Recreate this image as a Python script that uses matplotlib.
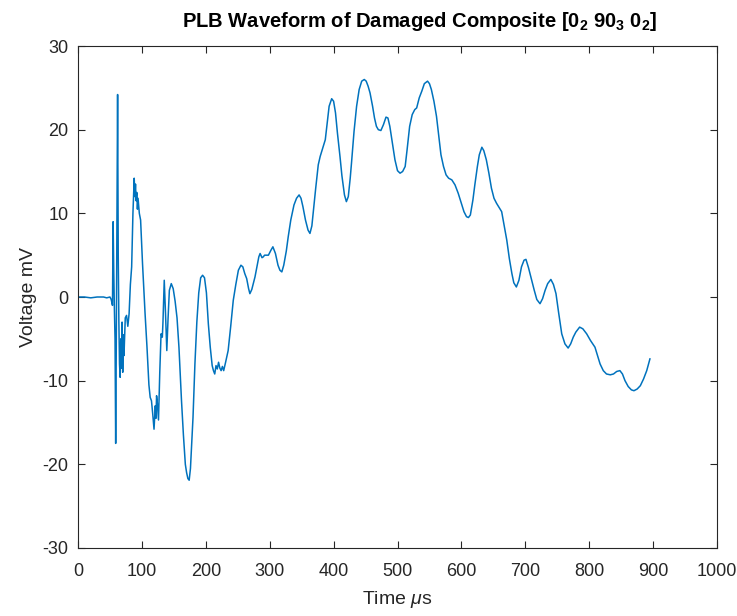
import matplotlib

matplotlib.use("Agg")
import matplotlib.pyplot as plt

# waveform samples (time in us, voltage in mV)
time_us = [
    0, 10, 20, 30, 40, 45, 50, 52, 54, 55, 56, 57, 58, 59, 60, 61, 62, 63, 64, 65,
    66, 67, 68, 69, 70, 71, 72, 74, 76, 78, 80, 82, 84, 86, 88, 89, 90, 91, 92, 93,
    94, 96, 98, 101, 105, 108, 111, 113, 115, 117, 119, 121, 122, 123, 124, 126, 128, 130, 132, 133,
    135, 137, 139, 141, 143, 146, 149, 152, 155, 158, 162, 165, 168, 170, 172, 174, 176, 178, 180, 183,
    186, 189, 192, 195, 198, 201, 204, 207, 210, 212, 214, 216, 218, 220, 222, 224, 226, 228, 231, 235,
    239, 243, 247, 251, 255, 258, 261, 264, 267, 269, 272, 275, 277, 280, 283, 285, 288, 290, 292, 295,
    298, 302, 305, 309, 313, 316, 319, 322, 326, 329, 333, 338, 342, 346, 349, 352, 356, 360, 363, 366,
    369, 372, 376, 379, 383, 387, 390, 393, 397, 400, 403, 406, 410, 413, 417, 420, 423, 426, 428, 432,
    436, 440, 444, 448, 451, 454, 457, 461, 464, 467, 470, 474, 478, 482, 485, 488, 492, 496, 500, 504,
    508, 512, 515, 519, 523, 527, 530, 534, 538, 542, 547, 550, 553, 557, 561, 565, 568, 572, 576, 580,
    585, 590, 595, 600, 604, 608, 611, 614, 618, 621, 625, 628, 632, 635, 639, 643, 647, 651, 655, 659,
    663, 667, 671, 675, 679, 682, 686, 690, 694, 698, 701, 705, 710, 714, 718, 723, 727, 731, 735, 740,
    744, 748, 752, 757, 762, 767, 771, 775, 779, 785, 790, 796, 802, 809, 813, 817, 822, 827, 833, 838,
    843, 848, 852, 856, 861, 866, 870, 875, 880, 885, 890, 895,
]
voltage_mv = [
    0, 0, -0.1, 0, 0, -0.1, 0, -0.3, -1.0, 9.0, 3, -1.5, -5, -17.5, -5, 10, 24.2, 5, -3, -8,
    -9.6, -5, -8.5, -3, -9, -4.5, -7, -2.5, -2.2, -3.5, -2, 1.5, 3.6, 10, 14.2, 12, 13.5, 11.5, 12.5, 10.5,
    11.8, 10, 9.2, 4, -2, -6, -10.5, -12, -12.4, -14, -15.8, -13, -14.5, -11.8, -12.5, -14.7, -9, -4.4, -4.8, -3,
    2.0, -2, -6.4, -2.5, 0.8, 1.6, 1.0, -0.5, -2.5, -6, -12.4, -16.5, -20, -21, -21.7, -21.9, -20.5, -17.5, -14.4, -8,
    -3, 0.5, 2.3, 2.6, 2.3, 0.5, -3.2, -6, -8.2, -8.8, -9.2, -8.2, -8.6, -7.8, -8.5, -8.8, -8.3, -8.8, -7.8, -6.4,
    -3.5, -0.4, 1.5, 3.2, 3.8, 3.6, 2.8, 2.2, 1.0, 0.4, 0.9, 1.8, 2.4, 3.6, 4.8, 5.2, 4.7, 4.8, 5.0, 5.0,
    5.0, 5.6, 6.0, 5.2, 3.8, 3.2, 3.0, 3.8, 5.5, 7.2, 9.2, 11.0, 11.8, 12.2, 11.8, 10.8, 9.2, 8.0, 7.6, 8.5,
    10.8, 13, 15.8, 16.8, 17.8, 18.8, 20.8, 22.8, 23.7, 23.4, 22, 19.6, 16.8, 14.5, 12.2, 11.4, 12, 14.2, 16.0, 19.8,
    22.8, 24.8, 25.8, 26.0, 25.8, 25.2, 24.4, 22.8, 21.4, 20.4, 20, 19.9, 20.6, 21.5, 21.4, 20.4, 18.4, 16.4, 15.1, 14.8,
    15.0, 15.6, 17.6, 20.4, 21.8, 22.4, 22.6, 23.8, 24.6, 25.5, 25.8, 25.5, 24.8, 23.4, 21.6, 19, 17, 15.6, 14.6, 14.2,
    14.0, 13.4, 12.4, 11.2, 10.2, 9.6, 9.5, 9.8, 11.6, 13.4, 15.6, 17.0, 17.9, 17.5, 16.4, 14.8, 13.0, 11.8, 11.2, 10.7,
    10.2, 8.5, 6.8, 4.6, 2.8, 1.7, 1.2, 2.0, 3.6, 4.4, 4.5, 3.5, 2.0, 0.8, -0.3, -0.8, -0.2, 0.8, 1.6, 2.1,
    1.5, 0.4, -1.8, -4.4, -5.6, -6.1, -5.6, -4.8, -4.2, -3.6, -3.8, -4.4, -5.2, -6.0, -7.0, -8.0, -8.8, -9.2, -9.3, -9.2,
    -8.9, -8.8, -9.2, -10, -10.7, -11.1, -11.2, -11.0, -10.6, -9.8, -8.8, -7.4,
]
x_ticks = list(range(0, 1001, 100))
y_ticks = list(range(-30, 31, 10))

plt.rcParams["font.family"] = ["Liberation Sans", "DejaVu Sans"]
plt.rcParams["mathtext.fontset"] = "custom"
plt.rcParams["mathtext.rm"] = "Liberation Sans"
plt.rcParams["mathtext.it"] = "Liberation Sans:italic"
plt.rcParams["mathtext.bf"] = "Liberation Sans:bold"
plt.rcParams["axes.unicode_minus"] = False

axis_grey = "#262626"

fig = plt.figure(figsize=(7.37, 6.16), dpi=100)
ax = fig.add_axes([0.1058, 0.1104, 0.8671, 0.8149])
ax.plot(time_us, voltage_mv, color="#0072BD", lw=1.1)

ax.set_xlim(0, 1000)
ax.set_ylim(-30, 30)
ax.set_xticks(x_ticks)
ax.set_yticks(y_ticks)
ax.tick_params(direction="in", length=5, width=0.8, top=True, right=True,
               labelsize=13, colors=axis_grey)
ax.tick_params(axis="x", pad=11)
ax.tick_params(axis="y", pad=7)
for spine in ax.spines.values():
    spine.set_color(axis_grey)
    spine.set_linewidth(0.8)

ax.set_xlabel(r"Time $\mu$s", fontsize=14, color=axis_grey, labelpad=6)
ax.set_ylabel("Voltage mV", fontsize=14, color=axis_grey, labelpad=4)
# the reference title sits a little right of the axes centre
ax.set_title(r"PLB Waveform of Damaged Composite [0$_{\mathbf{2}}$ 90$_{\mathbf{3}}$ 0$_{\mathbf{2}}$]",
             fontsize=14.5, fontweight="bold", color="black", pad=14, x=0.535)

fig.savefig("out.png", dpi=100)
plt.close(fig)
